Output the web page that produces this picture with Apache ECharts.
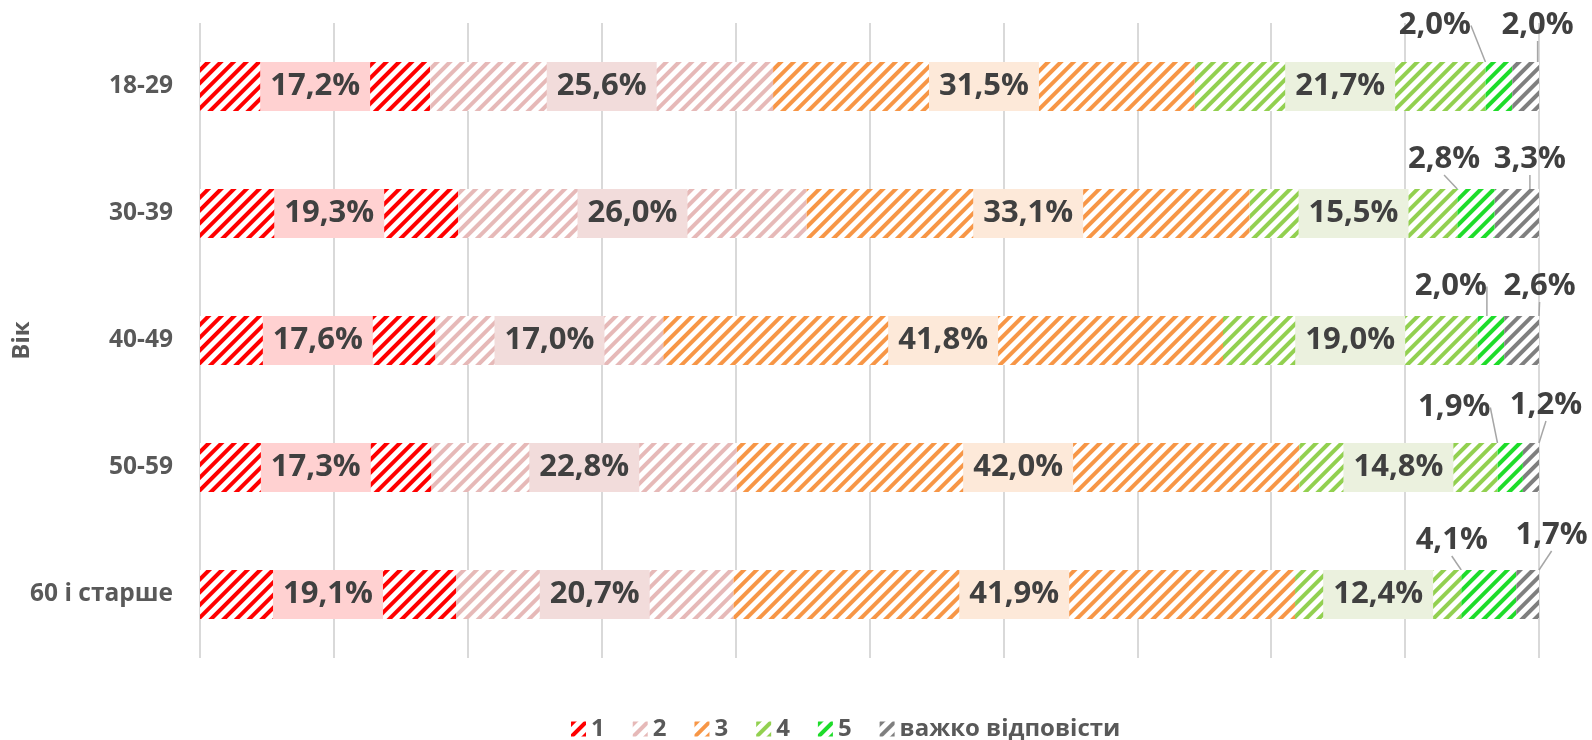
<!DOCTYPE html>
<html>
<head>
<meta charset="utf-8">
<script src="https://cdn.jsdelivr.net/npm/echarts@6/dist/echarts.min.js"></script>
<style>
  html, body { margin: 0; padding: 0; background: #fff; }
  #main { width: 1592px; height: 740px; }
</style>
</head>
<body>
<div id="main"></div>
<script>
// вікові групи (зверху вниз)
const categories = ['18-29', '30-39', '40-49', '50-59', '60 і старше']
const seriesNames = ['1', '2', '3', '4', '5', 'важко відповісти']

// відсотки по кожній оцінці
const score1 = [17.2, 19.3, 17.6, 17.3, 19.1]
const score2 = [25.6, 26.0, 17.0, 22.8, 20.7]
const score3 = [31.5, 33.1, 41.8, 42.0, 41.9]
const score4 = [21.7, 15.5, 19.0, 14.8, 12.4]
const score5 = [2.0, 2.8, 2.0, 1.9, 4.1]
const hardToSay = [2.0, 3.3, 2.6, 1.2, 1.7]

const xTicks = [0, 10, 20, 30, 40, 50, 60, 70, 80, 90, 100]

const allValues = [score1, score2, score3, score4, score5, hardToSay]

// кольори штрихування та фону підписів
const colors = ['#FF0000', '#E6B9B8', '#F79646', '#92D050', '#1EDC2A', '#7F7F7F']
const labelBg = ['#FFD1D1', '#F2DCDB', '#FDE9D9', '#EBF1DE', null, null]

// зсуви винесених підписів (для малих сегментів)
const outerOffsets = [
  [[-64, -61], [-32, -54], [-40, -54], [-56, -60], [-37, -54]],
  [[12, -61], [13, -54], [18, -54], [15, -62], [24, -59]],
]

// 100% нормування по рядку
const totals = categories.map((c, i) => allValues.reduce((s, arr) => s + arr[i], 0))

const fmt = (v) => v.toFixed(1).replace('.', ',') + '%'

const series = allValues.map((vals, si) => {
  const outer = si >= 4
  const s = {
    name: seriesNames[si],
    type: 'bar',
    stack: 'total',
    barWidth: 49,
    data: vals.map((v, i) => ({ value: (v / totals[i]) * 100, raw: v })),
    itemStyle: {
      color: '#ffffff',
      decal: {
        symbol: 'rect',
        symbolSize: 1,
        dashArrayX: [1, 0],
        dashArrayY: [4, 5],
        rotation: -Math.PI / 4,
        color: colors[si],
      },
    },
    label: {
      show: true,
      position: 'inside',
      formatter: (p) => fmt(p.data.raw),
      fontFamily: 'Open Sans',
      fontWeight: 'bold',
      fontSize: 31,
      color: '#404040',
    },
    emphasis: { disabled: true },
  }
  if (outer) {
    s.labelLine = { show: true, lineStyle: { color: '#A6A6A6', width: 1.5 } }
    s.labelLayout = (p) => {
      const o = outerOffsets[si - 4][p.dataIndex]
      return { dx: o[0], dy: o[1] }
    }
  } else {
    s.label.backgroundColor = labelBg[si]
    s.label.padding = [10, 10, 8, 10]
  }
  return s
})

var myChart = echarts.init(document.getElementById('main'))

var option = {
  animation: false,
  grid: { left: 200, right: 53, top: 23, bottom: 82, containLabel: false, outerBoundsMode: 'none' },
  legend: {
    data: seriesNames,
    left: 566,
    top: 712,
    icon: 'rect',
    itemWidth: 15,
    itemHeight: 15,
    itemGap: 28,
    textStyle: { fontFamily: 'Open Sans', fontWeight: 'bold', fontSize: 24, color: '#595959' },
  },
  xAxis: {
    type: 'value',
    min: xTicks[0],
    max: xTicks[xTicks.length - 1],
    interval: xTicks[1] - xTicks[0],
    axisLabel: { show: false },
    axisLine: { show: false },
    axisTick: { show: false },
    splitLine: { lineStyle: { color: '#D9D9D9', width: 2 } },
  },
  yAxis: {
    type: 'category',
    inverse: true,
    data: categories,
    name: 'Вік',
    nameLocation: 'middle',
    nameGap: 166,
    nameMoveOverlap: false,
    nameRotate: 90,
    nameTextStyle: { fontFamily: 'Open Sans', fontWeight: 'bold', fontSize: 24, color: '#595959' },
    axisLine: { show: false },
    axisTick: { show: false },
    axisLabel: { margin: 27, fontFamily: 'Open Sans', fontWeight: 'bold', fontSize: 24.5, color: '#595959' },
  },
  series: series,
}

myChart.setOption(option)
</script>
</body>
</html>
